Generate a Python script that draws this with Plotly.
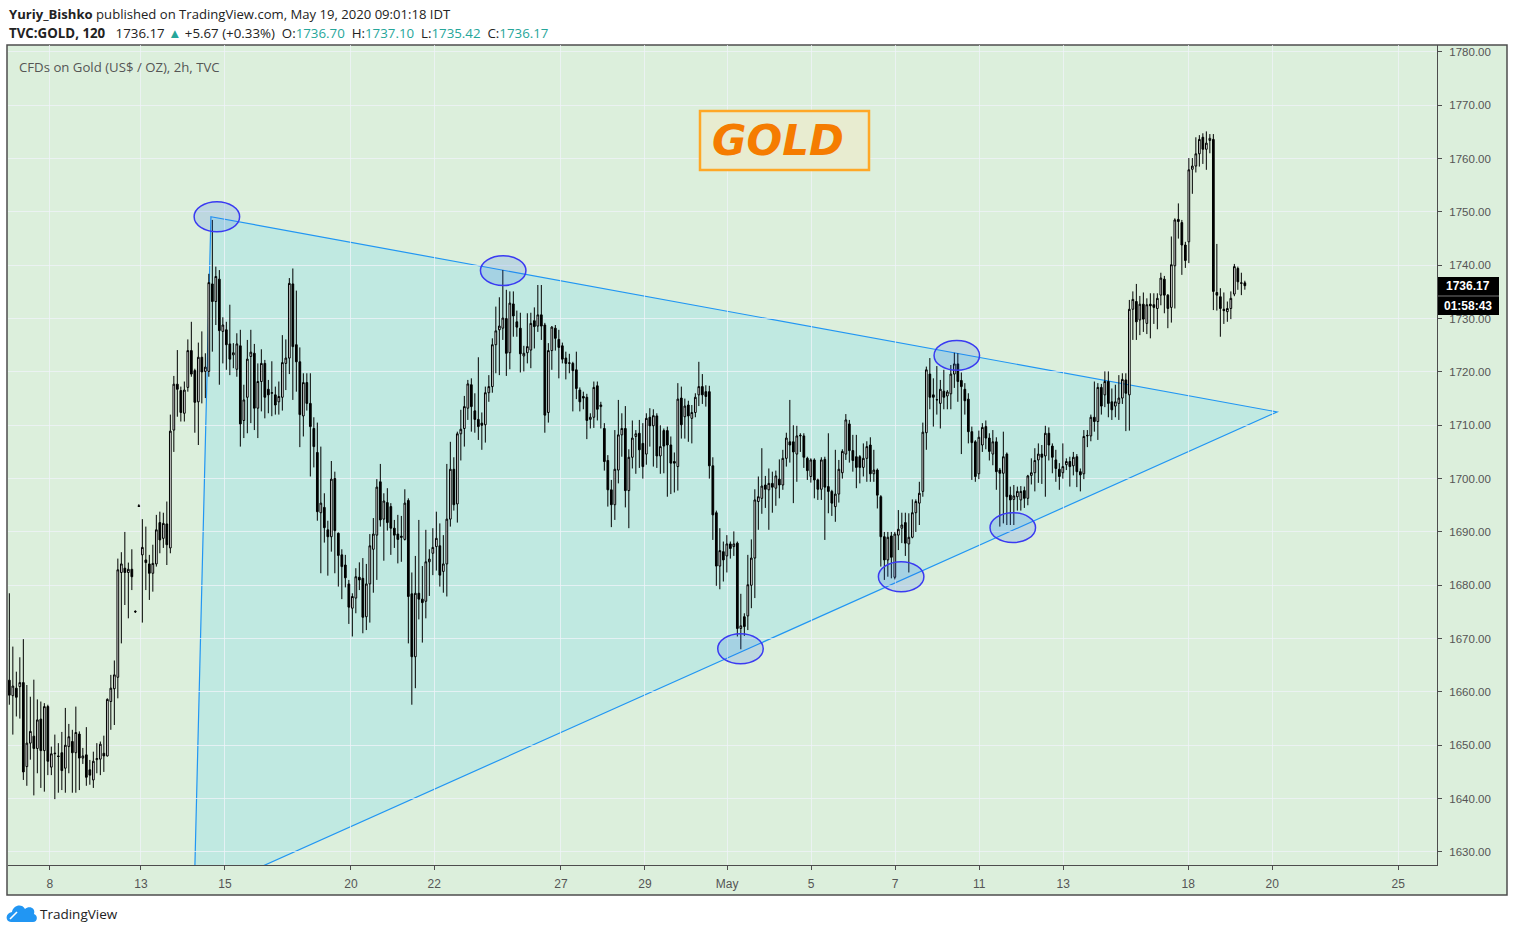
import plotly.graph_objects as go

# 2h candles, TVC:GOLD, 7 Apr 2020 -> 19 May 2020 (bar index on x, one row = one trading day)
bar_open = [
    1662.2, 1659.3, 1660.7, 1661, 1661.75, 1646, 1650.4, 1651.7, 1649.4, 1654.9, 1649, 1657.25,
    1645.9, 1648.4, 1648, 1648.6, 1645.7, 1649.75, 1650.7, 1648.6, 1652.1, 1647.6, 1648.2, 1645.4,
    1643.5, 1647.3, 1647.4, 1648.5, 1648, 1658.2, 1660.6, 1662.75, 1682.4, 1683.2, 1682.4, 1683,
    1675, 1694.9,
    1685.7, 1684.75, 1684, 1682.25, 1684, 1691.75, 1688.8, 1691.5, 1687, 1709.1, 1717.7, 1716.5,
    1712.25, 1717.1, 1724, 1720.25, 1714.4, 1722.75, 1720.1, 1720.1, 1736.5, 1733.2, 1737.4, 1727.6,
    1727.9, 1725.25, 1723.2, 1720.5, 1724.9, 1710.9, 1715.25, 1722.9, 1723.5, 1713.2, 1718.2, 1721.6,
    1716.75, 1716, 1715.7, 1714.4, 1715.25, 1721.6, 1722.6, 1736.5, 1725.1, 1721.9, 1711.75, 1718,
    1714.1, 1709.4, 1704.9, 1693.6, 1694.6, 1690.4, 1689.1, 1700, 1689.75, 1685.7, 1683.8, 1680.25,
    1675.7, 1677.6, 1681.5, 1681.3, 1674.1, 1680.25, 1686.75, 1689.4, 1699.4, 1692.4, 1695.5, 1694.75,
    1690.7, 1689.6, 1689.2, 1688.6, 1695.9, 1678.4, 1666.6, 1678.5, 1677.4, 1677, 1684.4, 1686,
    1687.25, 1687.4, 1682.6, 1684, 1692.4, 1701.75, 1695.25, 1708.4, 1709.4, 1713.2, 1717.6, 1712.7,
    1711.1, 1710.4, 1710.1, 1716.1, 1717.25, 1725.1, 1727.9, 1728.2, 1730, 1723.6, 1732.75, 1729.4,
    1728.2, 1723, 1723.6, 1724.1, 1729.6, 1728.6, 1730.7, 1728.8, 1712.4, 1724, 1728.2, 1726.1,
    1724.9, 1722.6, 1721.6, 1721.6, 1720.4, 1716.6, 1715.4, 1715.25, 1711.1, 1711.5, 1717.4, 1713.5,
    1709.4, 1703.4, 1697.9, 1695.1, 1701.6, 1708.2, 1709.4, 1697.75, 1704, 1707.9, 1708.5, 1706.6,
    1704.6, 1711.5, 1709.9, 1711.75, 1704.25, 1709, 1709, 1706.3, 1703.2, 1702.25, 1715.1, 1711.6,
    1713.8, 1711.3, 1712.4, 1715.7, 1717.25, 1716.3, 1716.3, 1702.4, 1693.6, 1683.6, 1686.3, 1685.5,
    1687.75, 1687.25, 1687.9, 1671.9, 1674.1, 1674.25, 1680, 1685.1, 1695.7, 1696.3, 1698.8, 1697.9,
    1699.1, 1698.2, 1699.9, 1698.8, 1703.8, 1706.9, 1706.9, 1704.6, 1708, 1708, 1703.8, 1700.4,
    1703.5, 1699.75, 1698, 1703.6, 1698.5, 1697.6, 1694.75, 1697.1, 1701.1, 1704.6, 1710.25, 1705.25,
    1704.1, 1704.1, 1702.1, 1703.8, 1706.3, 1700.9, 1701.6, 1696.6, 1689.1, 1684.75, 1689.25, 1681.5,
    1689.4, 1690.7, 1691.75, 1687.75, 1689, 1693.6, 1695.4, 1697.6, 1708.6, 1719.6, 1715.7, 1714.75,
    1714.1, 1716.4, 1715.5, 1715.9, 1719.6, 1721.5, 1718.4, 1716.75, 1714.9, 1708.8, 1706.9, 1700.9,
    1706.3, 1709.75, 1707.6, 1704.6, 1706.9, 1701.6, 1701, 1704.6, 1696.9, 1696.1, 1696.6, 1696,
    1697.75, 1696.3, 1700.6, 1701.1, 1703.5, 1704.6, 1704.25, 1708.5, 1706.1, 1703.5, 1701.75, 1701.1,
    1702.6, 1703.2, 1702.4, 1704.1, 1701.3, 1700.9, 1708, 1708, 1711.5, 1710.7, 1717.1, 1715.7,
    1718.2, 1714.4, 1713.6, 1714.1, 1715.1, 1718.5, 1715.7, 1731.75, 1733.2, 1729.75, 1732.7, 1729.1,
    1732.7, 1732.6, 1731.9, 1734.4, 1737.4, 1734.4, 1732.1, 1739.9, 1748.6, 1748, 1743.8, 1744.4,
    1758, 1758.6, 1760.9, 1764, 1761.75, 1763.4, 1763.6, 1734.9, 1734.1, 1731.75, 1731.3, 1731.9,
    1734.6, 1739.4, 1736.6, 1736.7,
]
bar_high = [
    1678.5, 1668.5, 1663.8, 1666.5, 1669.9, 1661.3, 1659.1, 1662.3, 1658.6, 1658.2, 1657.9, 1657.6,
    1649.75, 1652, 1650.4, 1652.5, 1657, 1654, 1652.9, 1657.25, 1652.6, 1649.5, 1653.4, 1647.25,
    1648.8, 1650.4, 1650.7, 1651.8, 1658.8, 1663.2, 1665.9, 1685, 1686.2, 1690, 1684.25, 1686.75,
    1675.3, 1695.2,
    1692.4, 1691, 1685.7, 1687.6, 1693.2, 1693.8, 1693.6, 1695.7, 1712, 1719.25, 1724.1, 1717.25,
    1718.2, 1726.1, 1729.4, 1720.6, 1725.5, 1727.6, 1723.5, 1738.4, 1748.5, 1739.75, 1739.1, 1730.25,
    1729.4, 1732.6, 1725.4, 1727.25, 1727.9, 1717.6, 1726, 1727.9, 1725.25, 1721.6, 1724.25, 1722.25,
    1718.5, 1722, 1717.25, 1718.2, 1726.9, 1726.1, 1737.6, 1739.4, 1735.25, 1724.6, 1719.75, 1719.75,
    1719.75, 1711.5, 1710.5, 1706, 1697.25, 1692.1, 1703.3, 1701.3, 1689.9, 1686.75, 1685.7, 1681,
    1678.5, 1683.2, 1684.3, 1685.1, 1684, 1689.6, 1692.6, 1699.9, 1702.75, 1697.25, 1698.2, 1695.4,
    1692.25, 1693.2, 1693, 1698, 1696.3, 1682.4, 1685.5, 1692.25, 1683.6, 1690.4, 1686.75, 1690.7,
    1693.8, 1691.6, 1689.4, 1702.75, 1706.9, 1704, 1708.8, 1712.9, 1715.5, 1718.5, 1718.8, 1716,
    1722.75, 1712.4, 1717.25, 1719.4, 1726.3, 1732.25, 1734, 1739.1, 1735.4, 1735.1, 1735.1, 1731.5,
    1731.1, 1724.9, 1731, 1731.1, 1732.1, 1736.3, 1736.3, 1729.2, 1725.4, 1728.6, 1728.8, 1727.9,
    1725.5, 1723.8, 1723.4, 1721.9, 1723.8, 1717.1, 1716.3, 1715.9, 1712.25, 1718.2, 1718.2, 1714.4,
    1710.4, 1704.4, 1699.75, 1709.1, 1714.75, 1712.25, 1713.6, 1705.5, 1710.9, 1709.1, 1711, 1710.4,
    1712.25, 1713.2, 1713, 1712.25, 1710, 1709.4, 1709.75, 1707.9, 1704.9, 1717.9, 1717.25, 1715,
    1714.6, 1713.8, 1716, 1721.9, 1719.6, 1717.5, 1717.4, 1704, 1694, 1690.7, 1688.2, 1689.4,
    1688.2, 1690.1, 1688.2, 1678.4, 1674.75, 1685.7, 1688.6, 1698, 1700.4, 1705.7, 1700.5, 1701.9,
    1701.3, 1701.5, 1703.6, 1705.4, 1708.6, 1714.75, 1710, 1709.9, 1708.5, 1708.5, 1704.1, 1703.8,
    1703.8, 1700, 1704, 1704.1, 1708.5, 1697.9, 1705.4, 1703.5, 1705.5, 1712.1, 1711, 1708.2,
    1708.2, 1704.4, 1706.6, 1707, 1707.75, 1705.4, 1701.9, 1696.9, 1690, 1690, 1690, 1690,
    1694.1, 1693.6, 1693.6, 1693.5, 1696.1, 1696.1, 1699.4, 1710.5, 1721, 1722.6, 1718.8, 1721.1,
    1718.5, 1720.4, 1716.6, 1721.3, 1723.6, 1723.5, 1719.9, 1717.9, 1716, 1709.75, 1707.2, 1709,
    1710.4, 1710.9, 1708.5, 1709.1, 1707.75, 1702, 1708.8, 1704.9, 1698.5, 1698.8, 1698.5, 1698.6,
    1698.5, 1700.7, 1703.8, 1705.7, 1706.6, 1706.3, 1709.9, 1709.6, 1706.6, 1705.4, 1702.9, 1706.6,
    1703.8, 1704.1, 1705, 1704.6, 1701.9, 1709.1, 1709.1, 1712, 1718.2, 1717.9, 1717.75, 1720.1,
    1720.1, 1716.9, 1717.6, 1719.4, 1719.75, 1719.75, 1733.5, 1735.1, 1736.5, 1734.25, 1734.9, 1733.8,
    1734.75, 1734.75, 1734.75, 1738.6, 1738, 1734.6, 1745.4, 1748.8, 1751.6, 1748.5, 1744.4, 1760.1,
    1760.1, 1764, 1764.4, 1764.75, 1765.1, 1764.6, 1764.6, 1744, 1735.7, 1734.9, 1733.2, 1735.1,
    1740.25, 1739.75, 1738.6, 1737.1,
]
bar_low = [
    1657.6, 1652, 1655.4, 1655, 1643.5, 1642.4, 1647.3, 1640.6, 1644.75, 1642, 1641.3, 1644.4,
    1644.4, 1639.9, 1641.1, 1641.6, 1641.1, 1644.75, 1641.1, 1641.1, 1641.6, 1646.5, 1642.4, 1642.6,
    1642, 1644.75, 1644.4, 1645, 1647.9, 1652.9, 1653.8, 1658.8, 1669.1, 1676.3, 1673.8, 1679.1,
    1674.8, 1694.7,
    1673, 1679.1, 1677.25, 1678.8, 1683.5, 1686, 1687, 1683.8, 1686, 1705, 1711.6, 1710.7,
    1710.7, 1716.3, 1719.1, 1708.6, 1706.3, 1714.1, 1715.1, 1719.1, 1723.8, 1728.8, 1717.6, 1721.6,
    1720.4, 1719.4, 1720.7, 1719.1, 1706, 1707.6, 1708.5, 1710.4, 1709.1, 1707.6, 1712.6, 1711.3,
    1712.25, 1711.7, 1712, 1712, 1712.75, 1716.6, 1719.6, 1714.75, 1716.3, 1705.9, 1707.9, 1712.75,
    1700.4, 1702.1, 1692.1, 1682.25, 1688, 1681.8, 1686.3, 1682.25, 1679.75, 1677.4, 1679.6, 1672.75,
    1670.4, 1674.75, 1679.1, 1671, 1671.6, 1673, 1678.6, 1681, 1691, 1684.6, 1690.25, 1685.7,
    1687, 1684.1, 1684.4, 1688.4, 1669.1, 1657.6, 1660.7, 1673.6, 1669.25, 1673.8, 1678, 1681.9,
    1682.75, 1679.75, 1678.6, 1677.9, 1691, 1694, 1691.75, 1703.4, 1706, 1711, 1708.8, 1708.6,
    1707.25, 1705.4, 1706.75, 1714.4, 1716.1, 1719.75, 1719.4, 1726, 1719.25, 1720.5, 1726.6, 1726.6,
    1719.9, 1720.1, 1721.6, 1720.7, 1724.4, 1727.5, 1726, 1708.6, 1710.5, 1720.4, 1724, 1718.8,
    1721.6, 1718.6, 1719.75, 1712.6, 1714.9, 1712.6, 1713, 1707.4, 1709.4, 1709.5, 1710.9, 1709.4,
    1701.5, 1694.75, 1690.9, 1692.25, 1699.1, 1704.1, 1694.6, 1690.7, 1701.9, 1700.9, 1702, 1700,
    1702.6, 1706, 1702.25, 1702, 1700.9, 1701, 1696.6, 1697.1, 1697.4, 1697.75, 1707.5, 1707.5,
    1706.9, 1706.6, 1711.5, 1713.6, 1714, 1713.5, 1700, 1688.5, 1679.9, 1679.25, 1680.7, 1682.4,
    1685, 1685.5, 1670.4, 1668, 1670.5, 1671.6, 1675.7, 1677.6, 1690.4, 1693.4, 1694.5, 1690.4,
    1693.6, 1694.9, 1696.3, 1697.9, 1702.25, 1703, 1695.4, 1699.4, 1705, 1702, 1699.75, 1699.25,
    1696.3, 1696, 1696, 1688.5, 1693.5, 1693, 1691.9, 1695.5, 1700, 1703.5, 1703, 1701.3,
    1698.2, 1699.1, 1700.4, 1699.4, 1699.4, 1699.4, 1694.4, 1683.5, 1681, 1681.6, 1681.3, 1681.1,
    1686.6, 1687.9, 1685.5, 1682.4, 1688.8, 1690, 1691.3, 1696.6, 1705.4, 1713, 1709.75, 1712,
    1709.4, 1713, 1713, 1713, 1717, 1714.4, 1704.6, 1712, 1706.6, 1699.75, 1699.4, 1699.9,
    1705, 1705.5, 1703.4, 1702.5, 1697.9, 1691, 1691.6, 1691.3, 1691.3, 1691.3, 1694, 1694,
    1694.5, 1695, 1698.9, 1697.6, 1699.2, 1699, 1696.6, 1703.4, 1701, 1699.4, 1697.9, 1700,
    1701.6, 1698.5, 1700.6, 1698.4, 1697.6, 1699.9, 1705.9, 1707, 1708.8, 1707.25, 1712, 1713.4,
    1711.5, 1711, 1711.5, 1711, 1714, 1708.9, 1709, 1726, 1726, 1726.9, 1727.5, 1727.1,
    1726.3, 1729, 1728, 1732.5, 1731, 1728.2, 1729.25, 1731.9, 1745, 1738.2, 1739.5, 1740.4,
    1753.4, 1757.4, 1758.5, 1759, 1757.9, 1761, 1731.6, 1731.5, 1726.6, 1729, 1729.4, 1729.9,
    1734.2, 1735.4, 1734.4, 1735.42,
]
bar_close = [
    1659.4, 1661.1, 1659, 1661.75, 1645, 1650.4, 1652.6, 1649.4, 1654.75, 1649, 1657.25, 1647,
    1648.4, 1648.5, 1647.9, 1645.25, 1650, 1651.6, 1648.6, 1652.4, 1647.6, 1648, 1644, 1644.4,
    1647, 1647.5, 1650.2, 1648, 1658.6, 1660.7, 1663.2, 1682.9, 1684, 1682.4, 1683, 1681.6,
    1675.1, 1694.8,
    1687.1, 1684.25, 1682.25, 1684.1, 1690.4, 1688.5, 1691.6, 1687.6, 1708.9, 1717.7, 1716.75, 1712.4,
    1716.6, 1724, 1719.6, 1714.3, 1722.75, 1720, 1720.9, 1736.75, 1733.2, 1737.9, 1727.75, 1728.8,
    1725.1, 1722.4, 1723.6, 1725.25, 1710.25, 1714.75, 1722.4, 1723.7, 1713.2, 1718.2, 1721.6, 1715.25,
    1715.7, 1716.1, 1713.8, 1715.4, 1721.75, 1722.6, 1736.6, 1724.75, 1721.9, 1712, 1718, 1714.1,
    1709.75, 1706, 1693.8, 1695.4, 1690.8, 1689.1, 1699.9, 1690.25, 1685.6, 1683.5, 1681.4, 1675.9,
    1677.9, 1681.6, 1681, 1674, 1680.25, 1687.4, 1689.6, 1698.4, 1692.25, 1695.8, 1691.75, 1690.7,
    1689.4, 1688.6, 1689, 1695.4, 1677.9, 1666.6, 1678.5, 1677.4, 1676.75, 1684.4, 1684.9, 1687.1,
    1688.8, 1681.9, 1684, 1692.4, 1701.75, 1695.1, 1708.4, 1709.25, 1713.5, 1717.75, 1713.5, 1711.1,
    1709.75, 1710, 1716.1, 1717.25, 1725.1, 1727.7, 1728.6, 1730.1, 1723.5, 1732.9, 1730.5, 1728.4,
    1723.4, 1723.5, 1724.75, 1729.1, 1728.5, 1730.7, 1728.6, 1711.9, 1724, 1728.4, 1726.3, 1724.6,
    1722.4, 1721.6, 1721.7, 1720.25, 1716.9, 1714.4, 1715.1, 1710.9, 1711.5, 1717.1, 1713, 1713.8,
    1703.2, 1697.9, 1695.1, 1701.75, 1708.2, 1709.4, 1697.75, 1704, 1707.6, 1708.4, 1705.4, 1702.25,
    1711.3, 1709.9, 1711.8, 1704.25, 1706, 1706.1, 1706.3, 1702.9, 1702.9, 1714.9, 1710.1, 1713.6,
    1711.75, 1712.4, 1715.25, 1717.25, 1715.7, 1715.4, 1702.4, 1693.2, 1683.6, 1686.5, 1684.75, 1687.75,
    1686.9, 1687.75, 1671.9, 1672.4, 1672.25, 1680.1, 1685.1, 1696, 1696.6, 1698.6, 1698, 1699.1,
    1698.4, 1700.5, 1698.8, 1703.8, 1707.6, 1706.3, 1705, 1708, 1708.1, 1704, 1701.5, 1703.5,
    1699.75, 1698, 1703.5, 1698.4, 1697.6, 1695.4, 1697.1, 1701.75, 1705.1, 1711, 1705.25, 1703.4,
    1702.1, 1702.1, 1703.8, 1706, 1700.9, 1701.6, 1696.9, 1689.1, 1684.75, 1689, 1685.25, 1689.6,
    1690.5, 1691.3, 1687.9, 1689, 1693.6, 1695.7, 1697.25, 1708.7, 1720.4, 1715.25, 1715.25, 1714.8,
    1716.75, 1715.25, 1716.25, 1719.6, 1721.5, 1718.2, 1717.25, 1714.6, 1708.8, 1706.75, 1700.4, 1707.75,
    1709.6, 1707.6, 1705.1, 1706.9, 1701.3, 1701, 1704.1, 1696.6, 1696, 1696.75, 1697.6, 1697.6,
    1696.3, 1700.5, 1701.1, 1703.4, 1704.6, 1704, 1708.5, 1706.3, 1704, 1701.9, 1700.4, 1702.25,
    1703.2, 1702.25, 1704, 1701.3, 1700.7, 1707.9, 1708.1, 1711.5, 1710.7, 1717.1, 1713.6, 1718.2,
    1714.1, 1712.9, 1714.4, 1715.1, 1718.6, 1716, 1731.75, 1733.6, 1729.4, 1732.7, 1729.9, 1732.6,
    1732.4, 1732.1, 1733.8, 1737.6, 1734.4, 1731.9, 1740.1, 1748.5, 1748.2, 1743.8, 1740.9, 1757.9,
    1758.6, 1760.9, 1763.6, 1761.75, 1762.9, 1763.8, 1735.1, 1734.4, 1731.9, 1731.5, 1731.9, 1733.8,
    1739.75, 1736.9, 1736.7, 1736.17,
]

# date labels on the bar axis
day_ticks = [11.6, 37.6, 61.6, 97.6, 121.4, 157.6, 181.6, 205.1, 229.1, 253.1, 277.1, 301.1, 336.8, 360.8, 396.8]
day_labels = ["8", "13", "15", "20", "22", "27", "29", "May", "5", "7", "11", "13", "18", "20", "25"]

# drawings (bar index, price)
tri_bar = [57.6, 362.2, 52.8]
tri_price = [1749.1, 1712.5, 1621.6]
ell_bar = [59.3, 141.1, 270.7, 208.9, 254.8, 286.7]
ell_price = [1749.1, 1739.0, 1723.1, 1668.1, 1681.6, 1690.8]

W, H = 1514, 935
L, R, T, B = 8, 1437, 45, 865
BG = "#dcefdc"
TEAL = "#26a69a"


def px(x):
    return (x - L) / (R - L)


def py(y):
    return (B - y) / (B - T)


x_idx = list(range(len(bar_close)))

fig = go.Figure()
fig.add_trace(go.Candlestick(
    x=x_idx, open=bar_open, high=bar_high, low=bar_low, close=bar_close,
    increasing=dict(line=dict(color="#000000", width=1), fillcolor="#ffffff"),
    decreasing=dict(line=dict(color="#000000", width=1), fillcolor="#000000"),
    whiskerwidth=0, hoverinfo="skip", showlegend=False,
))

shapes = []
# outer frame of the chart panel
shapes.append(dict(type="rect", xref="paper", yref="paper",
                   x0=px(7), x1=px(1507), y0=py(895), y1=py(45),
                   fillcolor=BG, line=dict(color="#4d4d4d", width=1.5), layer="below"))

# triangle
tri_path = "M {},{} L {},{} L {},{} Z".format(
    tri_bar[0], tri_price[0], tri_bar[1], tri_price[1], tri_bar[2], tri_price[2])
shapes.append(dict(type="path", xref="x", yref="y", path=tri_path,
                   fillcolor="#c0e9e1", line=dict(color="#2196f3", width=1.2), layer="below"))

# ellipses
for b, p in zip(ell_bar, ell_price):
    shapes.append(dict(type="circle", xref="x", yref="y",
                       x0=b - 6.5, x1=b + 6.5, y0=p - 2.8, y1=p + 2.8,
                       fillcolor="rgba(33,100,240,0.17)",
                       line=dict(color="#3a3af2", width=1.5), layer="above"))

# GOLD box
shapes.append(dict(type="rect", xref="paper", yref="paper",
                   x0=px(700), x1=px(869), y0=py(170), y1=py(111),
                   fillcolor="#e8ecd0", line=dict(color="#ffa726", width=2.5), layer="above"))

# last price / countdown label on the price scale
shapes.append(dict(type="rect", xref="paper", yref="paper",
                   x0=px(1438), x1=px(1499), y0=py(315), y1=py(277),
                   fillcolor="#000000", line=dict(width=0), layer="above"))
shapes.append(dict(type="line", xref="paper", yref="paper",
                   x0=px(1438), x1=px(1499), y0=py(296), y1=py(296),
                   line=dict(color="#777777", width=1), layer="above"))

# TradingView logo (cloud)
def pts(seq):
    out = []
    for cmd, coords in seq:
        out.append(cmd + " " + " ".join("{:.5f},{:.5f}".format(px(a), py(b)) for a, b in coords))
    return " ".join(out)


cloud = pts([("M", [(11, 922)]),
             ("C", [(5, 922), (5, 913), (12, 912)]),
             ("C", [(13, 905), (22, 903), (25, 909)]),
             ("C", [(29, 905), (36, 908), (34, 914)]),
             ("C", [(38, 915), (38, 922), (33, 922)])]) + " Z"
shapes.append(dict(type="path", xref="paper", yref="paper", path=cloud,
                   fillcolor="#2196f3", line=dict(width=0), layer="above"))
zig = pts([("M", [(10, 919)]), ("L", [(17, 912), (23, 917), (27, 914), (33, 918)])])
shapes.append(dict(type="path", xref="paper", yref="paper", path=zig,
                   line=dict(color="#ffffff", width=1.6), layer="above"))

ann = []
ann.append(dict(xref="paper", yref="paper", x=px(7), y=py(14), xanchor="left", yanchor="middle",
                showarrow=False, font=dict(family="Open Sans", size=13.1, color="#222222"),
                text="<b>Yuriy_Bishko</b> published on TradingView.com, May 19, 2020 09:01:18 IDT"))
line2 = ("<b>TVC:GOLD, 120</b>&nbsp;&nbsp; 1736.17 <span style='color:%s'>▲</span> +5.67 (+0.33%%)&nbsp; "
         "O:<span style='color:%s'>1736.70</span>&nbsp; H:<span style='color:%s'>1737.10</span>&nbsp; "
         "L:<span style='color:%s'>1735.42</span>&nbsp; C:<span style='color:%s'>1736.17</span>"
         % (TEAL, TEAL, TEAL, TEAL, TEAL))
ann.append(dict(xref="paper", yref="paper", x=px(7), y=py(33), xanchor="left", yanchor="middle",
                showarrow=False, font=dict(family="Open Sans", size=13.3, color="#222222"), text=line2))
ann.append(dict(xref="paper", yref="paper", x=px(17), y=py(67), xanchor="left", yanchor="middle",
                showarrow=False, font=dict(family="Open Sans", size=13.2, color="#555555"),
                text="CFDs on Gold (US$ / OZ), 2h, TVC"))
ann.append(dict(xref="paper", yref="paper", x=px(778), y=py(140), xanchor="center", yanchor="middle",
                showarrow=False, text="<b><i>GOLD</i></b>",
                font=dict(family="DejaVu Sans", size=42, color="#f57c00")))
ann.append(dict(xref="paper", yref="paper", x=px(1468), y=py(286), xanchor="center", yanchor="middle",
                showarrow=False, text="<b>1736.17</b>",
                font=dict(family="Liberation Sans", size=12, color="#ffffff")))
ann.append(dict(xref="paper", yref="paper", x=px(1468), y=py(306), xanchor="center", yanchor="middle",
                showarrow=False, text="<b>01:58:43</b>",
                font=dict(family="Liberation Sans", size=12, color="#ffffff")))
ann.append(dict(xref="paper", yref="paper", x=px(38), y=py(914), xanchor="left", yanchor="middle",
                showarrow=False, text="TradingView",
                font=dict(family="Open Sans", size=13.5, color="#222222")))

grid = "rgba(240,243,250,0.75)"
fig.update_layout(
    width=W, height=H, autosize=False,
    margin=dict(l=L, r=W - R, t=T, b=H - B, pad=0),
    paper_bgcolor="#ffffff", plot_bgcolor=BG,
    shapes=shapes, annotations=ann,
    showlegend=False, hovermode=False,
    xaxis=dict(
        range=[-0.38, 407.9], rangeslider=dict(visible=False),
        tickmode="array", tickvals=day_ticks, ticktext=day_labels,
        showgrid=True, gridcolor=grid, gridwidth=1, zeroline=False,
        showline=True, linecolor="#4d4d4d", linewidth=1,
        ticks="outside", ticklen=4, tickcolor="#4d4d4d", ticklabelstandoff=4,
        tickfont=dict(family="Liberation Sans", size=12, color="#555555"),
    ),
    yaxis=dict(
        side="right", range=[1627.55, 1781.3],
        tick0=1630, dtick=10, tickformat=".2f",
        showgrid=True, gridcolor=grid, gridwidth=1, zeroline=False,
        showline=True, linecolor="#4d4d4d", linewidth=1,
        ticks="outside", ticklen=4, tickcolor="#4d4d4d", ticklabelstandoff=5,
        tickfont=dict(family="Liberation Sans", size=11.5, color="#555555"),
    ),
)

assert len(bar_open) == len(bar_high) == len(bar_low) == len(bar_close)

fig.write_html("out.html", config={"displayModeBar": False},
               post_script="document.body.style.margin='0px';")
